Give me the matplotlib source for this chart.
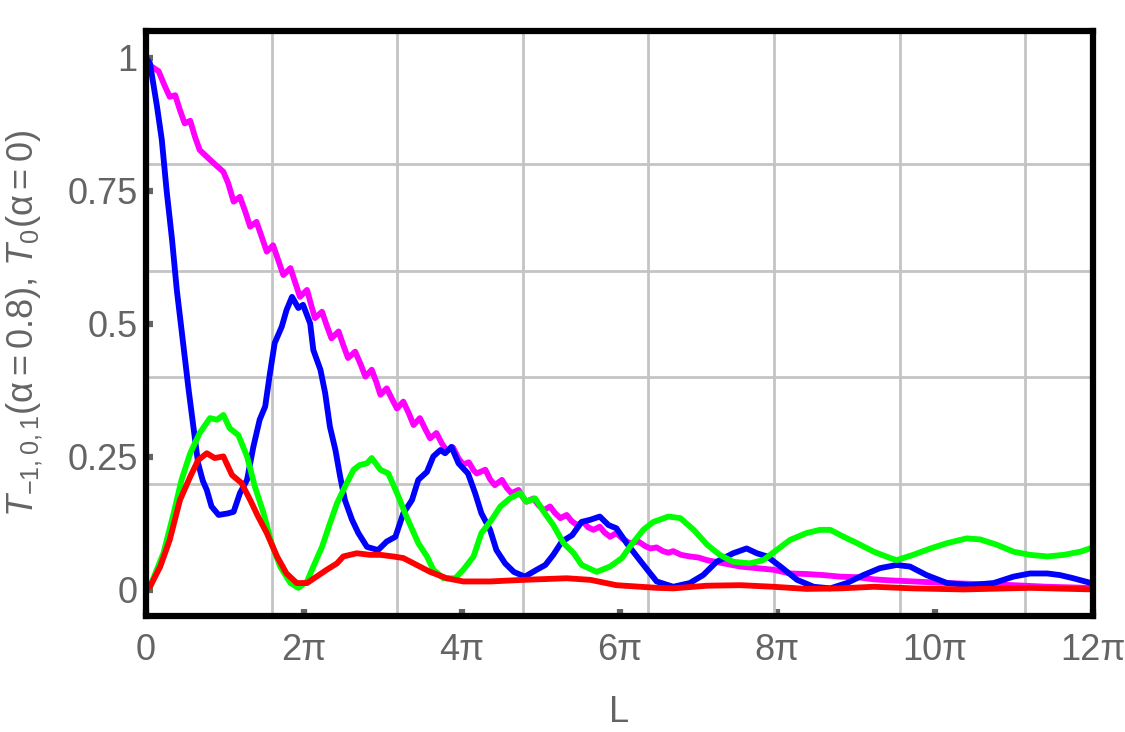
import numpy as np
import matplotlib
matplotlib.use("Agg")
import matplotlib.pyplot as plt
from matplotlib.ticker import FixedLocator

plt.rcParams['font.family'] = ['Liberation Sans', 'DejaVu Sans']
plt.rcParams['mathtext.fontset'] = 'custom'
plt.rcParams['mathtext.rm'] = 'Liberation Sans'
plt.rcParams['mathtext.it'] = 'Liberation Sans:italic'
plt.rcParams['mathtext.bf'] = 'Liberation Sans:bold'

# L given in units of pi
# T0 (alpha = 0), magenta
x_mag = [0.00, 0.06, 0.16, 0.23, 0.30, 0.37, 0.43, 0.49, 0.56, 0.62, 0.68, 0.83, 0.98, 1.04,
         1.11, 1.19, 1.26, 1.32, 1.40, 1.47, 1.53, 1.61, 1.68, 1.74, 1.83, 1.89, 1.95, 2.04,
         2.09, 2.14, 2.23, 2.29, 2.35, 2.44, 2.50, 2.56, 2.65, 2.72, 2.78, 2.86, 2.92, 2.97,
         3.05, 3.12, 3.18, 3.26, 3.33, 3.39, 3.47, 3.54, 3.60, 3.68, 3.75, 3.81, 3.89, 3.96,
         4.02, 4.09, 4.15, 4.19, 4.30, 4.36, 4.42, 4.51, 4.57, 4.63, 4.72, 4.77, 4.82, 4.91,
         4.97, 5.04, 5.12, 5.18, 5.25, 5.33, 5.39, 5.46, 5.54, 5.60, 5.67, 5.75, 5.81, 5.88,
         5.96, 6.04, 6.13, 6.24, 6.32, 6.39, 6.47, 6.55, 6.62, 6.68, 6.78, 6.89, 7.00, 7.11,
         7.32, 7.53, 7.74, 7.95, 8.16, 8.37, 8.58, 8.80, 9.01, 9.22, 9.43, 9.72, 10.15, 10.57,
         10.99, 11.42, 11.92, 12.00]
y_mag = [1.000, 0.985, 0.975, 0.950, 0.927, 0.930, 0.902, 0.877, 0.882, 0.852, 0.827, 0.806, 0.786, 0.765,
         0.730, 0.739, 0.710, 0.683, 0.692, 0.662, 0.636, 0.648, 0.618, 0.592, 0.605, 0.578, 0.551, 0.564,
         0.537, 0.511, 0.523, 0.497, 0.473, 0.486, 0.460, 0.436, 0.448, 0.424, 0.401, 0.414, 0.390, 0.367,
         0.379, 0.358, 0.341, 0.354, 0.332, 0.310, 0.323, 0.302, 0.285, 0.295, 0.275, 0.262, 0.268, 0.247,
         0.236, 0.240, 0.225, 0.219, 0.226, 0.208, 0.197, 0.207, 0.192, 0.182, 0.188, 0.175, 0.166, 0.172,
         0.160, 0.150, 0.157, 0.145, 0.135, 0.141, 0.130, 0.122, 0.128, 0.118, 0.113, 0.119, 0.108, 0.100,
         0.107, 0.096, 0.088, 0.091, 0.083, 0.078, 0.080, 0.073, 0.070, 0.073, 0.066, 0.063, 0.061, 0.056,
         0.050, 0.044, 0.041, 0.038, 0.031, 0.030, 0.028, 0.025, 0.024, 0.020, 0.018, 0.016, 0.013, 0.011,
         0.009, 0.006, 0.004, 0.004]

# blue
x_blue = [0.00, 0.05, 0.14, 0.20, 0.26, 0.33, 0.39, 0.45, 0.54, 0.60, 0.66, 0.72, 0.77, 0.83, 0.92,
          1.04, 1.11, 1.19, 1.28, 1.36, 1.44, 1.51, 1.57, 1.63, 1.72, 1.78, 1.85, 1.93, 1.99, 2.08,
          2.12, 2.21, 2.27, 2.33, 2.40, 2.46, 2.52, 2.61, 2.69, 2.80, 2.94, 3.05, 3.16, 3.26, 3.37,
          3.45, 3.56, 3.64, 3.73, 3.79, 3.87, 3.96, 4.08, 4.17, 4.25, 4.36, 4.44, 4.55, 4.66, 4.80,
          4.95, 5.06, 5.16, 5.27, 5.40, 5.52, 5.63, 5.75, 5.86, 5.96, 6.09, 6.22, 6.32, 6.47, 6.68,
          6.89, 7.06, 7.23, 7.44, 7.61, 7.74, 7.87, 8.04, 8.25, 8.46, 8.67, 8.88, 9.09, 9.30, 9.51,
          9.68, 9.89, 10.15, 10.44, 10.74, 10.99, 11.20, 11.42, 11.58, 11.75, 12.00]
y_blue = [1.000, 0.990, 0.908, 0.846, 0.752, 0.658, 0.564, 0.489, 0.376, 0.307, 0.238, 0.205, 0.188, 0.157, 0.141,
          0.144, 0.147, 0.182, 0.207, 0.269, 0.320, 0.345, 0.407, 0.464, 0.495, 0.526, 0.551, 0.530, 0.536, 0.501,
          0.451, 0.414, 0.370, 0.307, 0.263, 0.213, 0.169, 0.132, 0.107, 0.081, 0.075, 0.091, 0.100, 0.144, 0.169,
          0.207, 0.222, 0.251, 0.263, 0.257, 0.269, 0.238, 0.219, 0.182, 0.144, 0.113, 0.075, 0.050, 0.034, 0.025,
          0.038, 0.047, 0.066, 0.091, 0.103, 0.128, 0.132, 0.138, 0.122, 0.116, 0.088, 0.063, 0.044, 0.016, 0.006,
          0.013, 0.028, 0.053, 0.069, 0.078, 0.069, 0.063, 0.044, 0.019, 0.006, 0.003, 0.013, 0.028, 0.041, 0.047,
          0.044, 0.028, 0.013, 0.009, 0.013, 0.025, 0.031, 0.031, 0.028, 0.022, 0.012]

# green
x_green = [0.00, 0.05, 0.22, 0.35, 0.45, 0.56, 0.68, 0.81, 0.90, 0.98, 1.06, 1.17, 1.28, 1.38, 1.49,
           1.59, 1.70, 1.83, 1.93, 2.04, 2.12, 2.23, 2.33, 2.42, 2.52, 2.63, 2.71, 2.80, 2.86, 2.97,
           3.07, 3.18, 3.30, 3.45, 3.56, 3.64, 3.77, 3.92, 4.02, 4.15, 4.25, 4.38, 4.49, 4.61, 4.74,
           4.82, 4.93, 5.04, 5.16, 5.29, 5.42, 5.52, 5.71, 5.88, 6.03, 6.13, 6.30, 6.43, 6.62, 6.77,
           6.94, 7.11, 7.27, 7.44, 7.65, 7.82, 7.99, 8.16, 8.37, 8.54, 8.67, 8.84, 9.01, 9.22, 9.43,
           9.51, 9.72, 9.94, 10.15, 10.40, 10.57, 10.78, 10.99, 11.20, 11.42, 11.63, 11.84, 12.00]
y_green = [0.000, 0.006, 0.069, 0.144, 0.207, 0.257, 0.295, 0.323, 0.320, 0.329, 0.304, 0.291, 0.251, 0.194, 0.144,
           0.088, 0.044, 0.013, 0.004, 0.016, 0.044, 0.081, 0.125, 0.163, 0.194, 0.226, 0.235, 0.238, 0.248, 0.226,
           0.219, 0.182, 0.138, 0.088, 0.063, 0.038, 0.022, 0.022, 0.038, 0.063, 0.107, 0.132, 0.157, 0.172, 0.182,
           0.166, 0.172, 0.147, 0.122, 0.088, 0.069, 0.047, 0.034, 0.044, 0.060, 0.081, 0.113, 0.128, 0.138, 0.135,
           0.113, 0.085, 0.066, 0.053, 0.050, 0.056, 0.075, 0.094, 0.107, 0.113, 0.113, 0.100, 0.088, 0.072, 0.060,
           0.056, 0.066, 0.078, 0.088, 0.097, 0.095, 0.085, 0.072, 0.066, 0.063, 0.066, 0.072, 0.080]

# red
x_red = [0.00, 0.05, 0.18, 0.30, 0.43, 0.56, 0.66, 0.77, 0.87, 0.98, 1.09, 1.21, 1.32, 1.42, 1.53,
         1.66, 1.78, 1.91, 2.04, 2.16, 2.29, 2.42, 2.50, 2.67, 2.84, 2.97, 3.13, 3.26, 3.43, 3.60,
         3.81, 4.02, 4.36, 4.78, 5.33, 5.63, 5.96, 6.47, 6.68, 7.11, 7.53, 7.95, 8.37, 8.80, 9.22,
         9.72, 10.36, 11.20, 12.00]
y_red = [0.000, 0.006, 0.044, 0.094, 0.169, 0.213, 0.244, 0.257, 0.248, 0.251, 0.216, 0.201, 0.169, 0.138, 0.107,
         0.063, 0.031, 0.013, 0.013, 0.025, 0.038, 0.050, 0.063, 0.069, 0.066, 0.066, 0.063, 0.060, 0.047, 0.034,
         0.022, 0.016, 0.016, 0.019, 0.022, 0.019, 0.009, 0.004, 0.003, 0.008, 0.009, 0.006, 0.002, 0.003, 0.006,
         0.003, 0.001, 0.004, 0.001]

xticks = [0, 2, 4, 6, 8, 10, 12]
xticklabels = ['0', '2π', '4π', '6π', '8π', '10π', '12π']
yticks = [0, 0.25, 0.5, 0.75, 1]
yticklabels = ['0', '0.25', '0.5', '0.75', '1']
xgrid = [5, 10, 15, 20, 25, 30, 35]
ygrid = [0, 0.2, 0.4, 0.6, 0.8, 1.0]

gray = '#646464'

fig = plt.figure(figsize=(11.25, 7.32), dpi=100)
ax = fig.add_axes([0.1298, 0.1585, 0.8418, 0.7992])

ax.plot(np.array(x_mag) * np.pi, y_mag, color='#ff00ff', lw=4.2, solid_joinstyle='round')
ax.plot(np.array(x_blue) * np.pi, y_blue, color='#0000ff', lw=4.2, solid_joinstyle='round')
ax.plot(np.array(x_green) * np.pi, y_green, color='#00ff00', lw=4.2, solid_joinstyle='round')
ax.plot(np.array(x_red) * np.pi, y_red, color='#ff0000', lw=4.2, solid_joinstyle='round')

ax.set_xlim(0, 12 * np.pi)
ax.set_ylim(-0.0489, 1.0508)

ax.set_xticks(np.array(xticks) * np.pi)
ax.set_xticklabels(xticklabels)
ax.set_yticks(yticks)
ax.set_yticklabels(yticklabels)
ax.xaxis.set_minor_locator(FixedLocator(xgrid))
ax.yaxis.set_minor_locator(FixedLocator(ygrid))
ax.grid(which='minor', color='#c4c4c4', lw=2)
ax.grid(which='major', visible=False)
ax.set_axisbelow(True)

ax.tick_params(which='major', direction='in', length=5, width=4.5, color=gray,
               labelcolor=gray, labelsize=26)
ax.tick_params(axis='x', which='major', pad=12)
ax.tick_params(axis='y', which='major', pad=6)
ax.tick_params(which='minor', length=0)

for s in ax.spines.values():
    s.set_linewidth(4.5)
    s.set_color('black')

ax.set_xlabel('L', color=gray, fontsize=26)
ax.xaxis.set_label_coords(0.5, -0.135)
ax.set_ylabel(r'$T_{-1,0,1}(\mathrm{α}=0.8),\,T_0(\mathrm{α}=0)$', color=gray, fontsize=26)
ax.yaxis.set_label_coords(-0.107, 0.5)

fig.savefig('out.png', dpi=100)
